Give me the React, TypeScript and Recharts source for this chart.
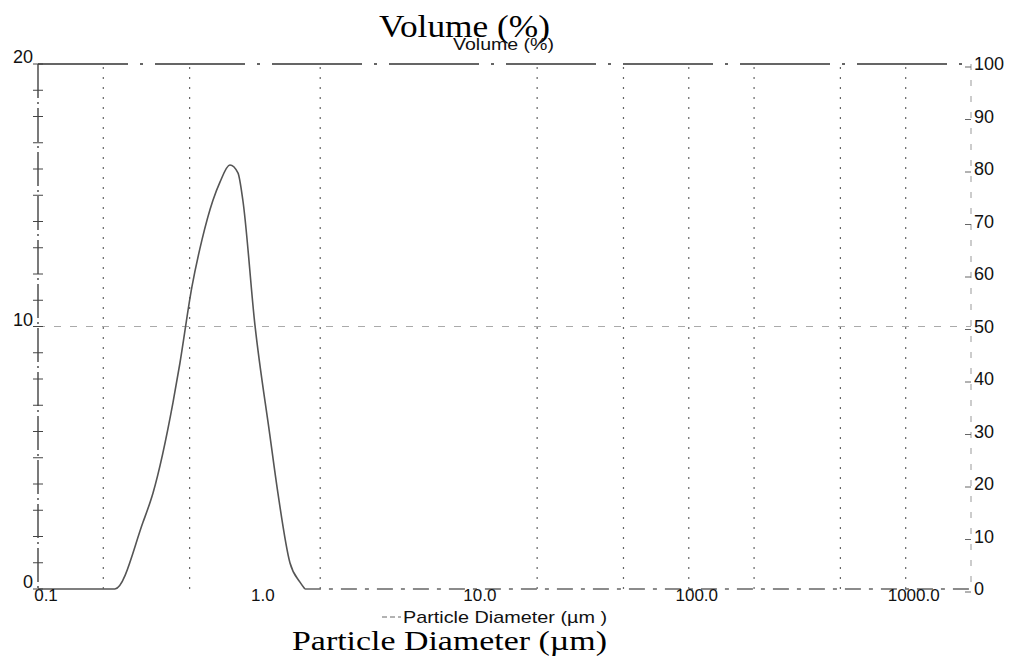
import React from 'react';
import { LineChart, Line, XAxis, YAxis, ReferenceLine } from 'recharts';

// particle size distribution (diameter in um, volume in %)
const diameters = [0.1, 0.2, 0.226, 0.305, 0.339, 0.419, 0.451, 0.512, 0.57, 0.64, 0.69, 0.767, 0.835, 0.88, 1.0, 1.17, 1.276, 1.45, 1.61, 1.7];
const volume = [0, 0, 0, 2.55, 3.66, 7.1, 8.6, 11.5, 13.3, 14.8, 15.5, 16.15, 15.85, 14.8, 10.06, 5.9, 3.66, 1.0, 0.27, 0];

// flat tail at zero out to the end of the range
const tailDiameters = [1.7, 2000];
const tailVolume = [0, 0];

const xTicks = [0.1, 1, 10, 100, 1000];
const xTickLabels = ['0.1', '1.0', '10.0', '100.0', '1000.0'];
const gridDiameters = [0.2, 0.5, 2, 20, 50, 100, 200, 500, 1000];

const leftTicks = [0, 1, 2, 3, 4, 5, 6, 7, 8, 9, 10, 11, 12, 13, 14, 15, 16, 17, 18, 19, 20];
const leftLabels = [0, 10, 20];
const rightTicks = [0, 10, 20, 30, 40, 50, 60, 70, 80, 90, 100];

const SANS = '"Liberation Sans", Arial, sans-serif';
const SERIF = '"Liberation Serif", "Times New Roman", serif';

const data = (() => {
  const rows: { d: number; v?: number; tail?: number }[] = diameters.map((d, i) => ({ d, v: volume[i] }));
  tailDiameters.forEach((d, i) => {
    const row = rows.find(r => r.d === d);
    if (row) row.tail = tailVolume[i];
    else rows.push({ d, tail: tailVolume[i] });
  });
  return rows.sort((a, b) => a.d - b.d);
})();

const XTick = ({ x, y, payload }: any) => {
  const idx = xTicks.indexOf(payload.value);
  return (
    <text x={x + 8} y={y + 12} textAnchor="middle" fontFamily={SANS} fontSize={17} fill="#111">
      {idx >= 0 ? xTickLabels[idx] : payload.value}
    </text>
  );
};

const LeftTick = ({ x, y, payload }: any) => (
  <g>
    <line x1={x - 5} x2={x + 5} y1={y} y2={y} stroke="#444" strokeWidth={1} />
    {leftLabels.includes(payload.value) && (
      <text x={x - 5} y={y - 1} textAnchor="end" fontFamily={SANS} fontSize={18} fill="#111">
        {payload.value}
      </text>
    )}
  </g>
);

const RightTick = ({ x, y, payload }: any) => (
  <g>
    <line x1={x - 6} x2={x} y1={y + 3} y2={y + 3} stroke="#666" strokeWidth={1} />
    <text x={x + 3} y={y + 6} textAnchor="start" fontFamily={SANS} fontSize={18} fill="#111">
      {payload.value}
    </text>
  </g>
);

export default function App() {
  return (
    <div style={{ position: 'absolute', left: 0, top: 0, width: 1013, height: 661, background: '#fff' }}>
      <LineChart width={1013} height={661} data={data} margin={{ top: 64, right: 41, bottom: 71, left: 37 }}>
        <XAxis
          dataKey="d"
          type="number"
          scale="log"
          domain={[0.1, 2000]}
          ticks={xTicks}
          height={1}
          tickSize={0}
          tickMargin={0}
          axisLine={false}
          tickLine={false}
          tick={<XTick />}
          interval={0}
          allowDataOverflow
        />
        <YAxis
          yAxisId="left"
          domain={[0, 20]}
          ticks={leftTicks}
          width={1}
          tickSize={0}
          tickMargin={0}
          tickLine={false}
          axisLine={{ stroke: '#333', strokeWidth: 1.3, strokeDasharray: '34 4 2 4' }}
          tick={<LeftTick />}
          interval={0}
        />
        <YAxis
          yAxisId="right"
          orientation="right"
          domain={[0, 100]}
          ticks={rightTicks}
          width={1}
          tickSize={0}
          tickMargin={0}
          tickLine={false}
          axisLine={{ stroke: '#999', strokeWidth: 1, strokeDasharray: '6 10' }}
          tick={<RightTick />}
          interval={0}
          allowDataOverflow
        />
        {gridDiameters.map(g => (
          <ReferenceLine key={g} yAxisId="left" x={g} stroke="#666" strokeWidth={1.2} strokeDasharray="2 8" />
        ))}
        <ReferenceLine yAxisId="left" y={10} stroke="#aaa" strokeDasharray="7 9" />
        <ReferenceLine yAxisId="left" y={20} stroke="#333" strokeWidth={1.5} strokeDasharray="90 12 3 12" />
        {/* nothing is plotted against the % axis in the scan; this keeps the axis alive */}
        <Line
          yAxisId="right"
          dataKey="tail"
          stroke="none"
          dot={false}
          legendType="none"
          isAnimationActive={false}
        />
        <Line
          yAxisId="left"
          dataKey="v"
          type="monotone"
          stroke="#555"
          strokeWidth={1.6}
          dot={false}
          isAnimationActive={false}
        />
        <Line
          yAxisId="left"
          dataKey="tail"
          type="linear"
          stroke="#666"
          strokeWidth={1.4}
          strokeDasharray="16 8 4 8"
          dot={false}
          isAnimationActive={false}
        />
      </LineChart>
      <svg width={1013} height={661} style={{ position: 'absolute', left: 0, top: 0, pointerEvents: 'none' }}>
        <text x={379} y={37} fontFamily={SERIF} fontSize={32} fill="#000" textLength={171} lengthAdjust="spacingAndGlyphs">
          Volume (%)
        </text>
        <text x={453} y={50} fontFamily={SANS} fontSize={16} fill="#111" textLength={101} lengthAdjust="spacingAndGlyphs">
          Volume (%)
        </text>
        <line x1={382} x2={401} y1={617} y2={617} stroke="#666" strokeWidth={1} strokeDasharray="5 3" />
        <text x={403} y={623} fontFamily={SANS} fontSize={17} fill="#111" textLength={204} lengthAdjust="spacingAndGlyphs">
          Particle Diameter (µm )
        </text>
        <text x={292} y={650} fontFamily={SERIF} fontSize={28} fill="#000" textLength={315} lengthAdjust="spacingAndGlyphs">
          Particle Diameter (µm)
        </text>
      </svg>
    </div>
  );
}
